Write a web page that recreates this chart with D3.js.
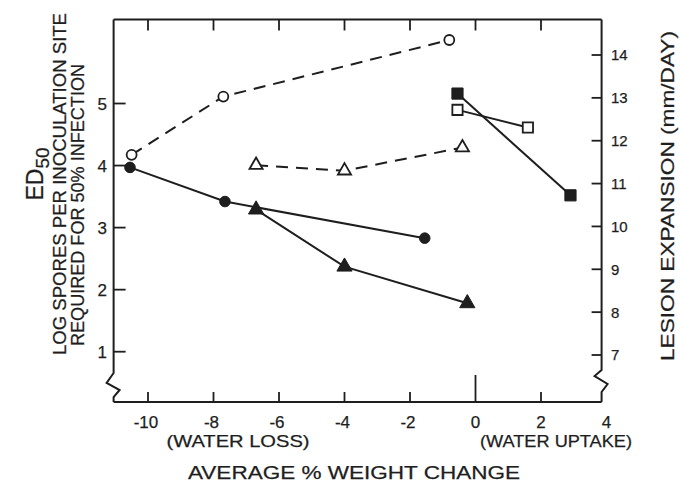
<!DOCTYPE html>
<html>
<head>
<meta charset="utf-8">
<script src="https://cdn.jsdelivr.net/npm/d3@7"></script>
<style>
  body { margin: 0; background: #fff; }
  text { font-family: "Liberation Sans", Arial, sans-serif; fill: #1e1e1e; stroke: #1e1e1e; stroke-width: 0.25; }
</style>
</head>
<body>
<svg id="chart" width="680" height="484"></svg>
<script>
// x: average % weight change
const xTicks = [-10, -8, -6, -4, -2, 0, 2, 4];
const edTicks = [1, 2, 3, 4, 5];
const lesionTicks = [7, 8, 9, 10, 11, 12, 13, 14];

// filled symbols -> ED50 (left axis)
const circleX = [-10.55, -7.65, -1.55];
const circleED50 = [3.97, 3.42, 2.83];
const triangleX = [-6.7, -4.0, -0.25];
const triangleED50 = [3.29, 2.37, 1.78];
const squareX = [-0.55, 2.9];
const squareED50 = [5.16, 3.52];

// open symbols -> lesion expansion (right axis)
const openCircleX = [-10.5, -7.7, -0.8];
const openCircleLesion = [11.67, 13.03, 14.35];
const openTriangleX = [-6.7, -4.0, -0.4];
const openTriangleLesion = [11.43, 11.3, 11.84];
const openSquareX = [-0.55, 1.6];
const openSquareLesion = [12.72, 12.31];

const INK = "#1e1e1e";
const svg = d3.select("#chart");

const x = d3.scaleLinear().domain([-10, 2]).range([148, 541]);
const yL = d3.scaleLinear().domain([1, 5]).range([351.7, 103.5]);
const yR = d3.scaleLinear().domain([7, 14]).range([355, 55]);

const fLeft = x(-11.05), fRight = x(3.85);
const fTop = 19.5, fBottom = 402;

// frame with axis breaks
const frame = svg.append("g").attr("fill", "none").attr("stroke", INK).attr("stroke-width", 2);
frame.append("path").attr("d", `M${fLeft},${fTop} L${fRight},${fTop}`);
frame.append("path").attr("d", `M${fLeft},${fBottom} L${fRight},${fBottom}`);
frame.append("path").attr("d",
  `M${fLeft},${fTop} L${fLeft},373 L${fLeft - 7},383 L${fLeft + 6},390 L${fLeft},397 L${fLeft},${fBottom}`);
frame.append("path").attr("d",
  `M${fRight},${fTop} L${fRight},370 L${fRight - 7},376 L${fRight + 6},384 L${fRight},392 L${fRight},${fBottom}`);

// ticks
const ticks = svg.append("g").attr("stroke", INK).attr("stroke-width", 1.8);
xTicks.filter(d => d < 4).forEach(d => {
  ticks.append("line").attr("x1", x(d)).attr("x2", x(d))
    .attr("y1", fBottom).attr("y2", fBottom - (d === 0 ? 27 : 10));
  ticks.append("line").attr("x1", x(d)).attr("x2", x(d))
    .attr("y1", fTop).attr("y2", fTop + 11);
});
edTicks.forEach(d => {
  ticks.append("line").attr("x1", fLeft).attr("x2", fLeft + 12).attr("y1", yL(d)).attr("y2", yL(d));
});
lesionTicks.forEach(d => {
  ticks.append("line").attr("x1", fRight).attr("x2", fRight - 10).attr("y1", yR(d)).attr("y2", yR(d));
});

// tick labels
const labels = svg.append("g").attr("font-size", 17);
xTicks.forEach(d => {
  labels.append("text").attr("x", x(d) + (d < 0 ? -2 : 0)).attr("y", 428)
    .attr("text-anchor", "middle").text(d < 0 ? "-" + Math.abs(d) : d);
});
edTicks.forEach(d => {
  labels.append("text").attr("x", 107).attr("y", yL(d)).attr("dy", "0.36em")
    .attr("text-anchor", "end").text(d);
});
lesionTicks.forEach(d => {
  labels.append("text").attr("x", 611).attr("y", yR(d)).attr("dy", "0.36em")
    .attr("font-size", 15).text(d);
});

// axis titles
const title = (tx, ty, txt, len, size, rot) => {
  const t = svg.append("text")
    .attr("transform", `translate(${tx},${ty})` + (rot ? " rotate(-90)" : ""))
    .attr("text-anchor", "middle").attr("font-size", size)
    .attr("textLength", len).attr("lengthAdjust", "spacingAndGlyphs")
    .text(txt);
  return t;
};
title(354, 479, "AVERAGE % WEIGHT CHANGE", 332, 19, false);
title(238, 447, "(WATER LOSS)", 143, 17, false);
title(556, 447, "(WATER UPTAKE)", 152, 17, false);
title(66, 184, "LOG SPORES PER INOCULATION SITE", 342, 18.5, true);
title(84, 205, "REQUIRED FOR 50% INFECTION", 282, 18.5, true);
title(674, 196, "LESION EXPANSION (mm/DAY)", 330, 18.5, true);

const ed = svg.append("text")
  .attr("transform", "translate(43,174) rotate(-90)")
  .attr("text-anchor", "middle").attr("font-size", 23);
ed.append("tspan").text("ED");
ed.append("tspan").attr("font-size", 19).attr("dy", 6).text("50");

// series
const series = [
  { xs: openCircleX, ys: openCircleLesion, y: yR, dash: "12,8", shape: d3.symbolCircle, size: 78, filled: false },
  { xs: openTriangleX, ys: openTriangleLesion, y: yR, dash: "12,8", shape: d3.symbolTriangle, size: 75, filled: false },
  { xs: openSquareX, ys: openSquareLesion, y: yR, dash: null, shape: d3.symbolSquare, size: 105, filled: false },
  { xs: circleX, ys: circleED50, y: yL, dash: null, shape: d3.symbolCircle, size: 88, filled: true },
  { xs: triangleX, ys: triangleED50, y: yL, dash: null, shape: d3.symbolTriangle, size: 100, filled: true },
  { xs: squareX, ys: squareED50, y: yL, dash: null, shape: d3.symbolSquare, size: 125, filled: true }
];

const line = d3.line();
series.forEach(s => {
  const pts = s.xs.map((d, i) => [x(d), s.y(s.ys[i])]);
  svg.append("path")
    .attr("d", line(pts))
    .attr("fill", "none")
    .attr("stroke", INK)
    .attr("stroke-width", 2)
    .attr("stroke-dasharray", s.dash);
  svg.selectAll(null)
    .data(pts)
    .join("path")
    .attr("transform", d => `translate(${d[0]},${d[1]})`)
    .attr("d", d3.symbol().type(s.shape).size(s.size))
    .attr("fill", s.filled ? INK : "#fff")
    .attr("stroke", INK)
    .attr("stroke-width", s.filled ? 1 : 1.8);
});
</script>
</body>
</html>
